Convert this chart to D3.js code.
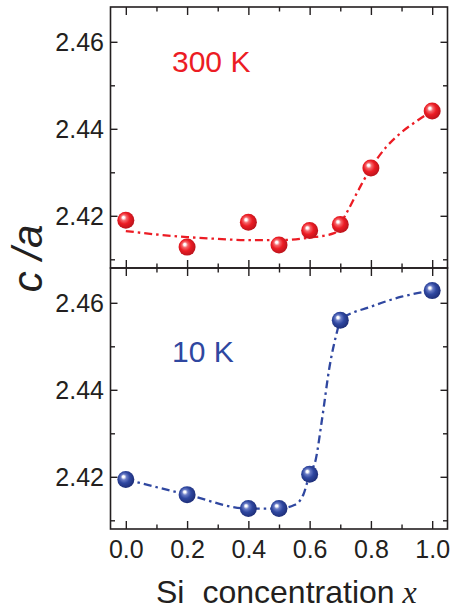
<!DOCTYPE html>
<html>
<head>
<meta charset="utf-8">
<script src="https://cdn.jsdelivr.net/npm/d3@7"></script>
<style>
  html, body { margin: 0; padding: 0; background: #fff; }
  svg text { font-family: "Liberation Sans", Arial, sans-serif; }
</style>
</head>
<body>
<div id="chart"></div>
<script>
// Data
const xMeas300 = [0, 0.2, 0.4, 0.5, 0.6, 0.7, 0.8, 1.0];
const caMeas300 = [2.4190, 2.4128, 2.4185, 2.4133, 2.4166, 2.4180, 2.4310, 2.4441];

const xFit300 = [0, 0.1, 0.2, 0.3, 0.4, 0.5, 0.6, 0.68, 0.72, 0.76, 0.8, 0.85, 0.9, 0.95, 1.0];
const caFit300 = [2.4165, 2.4157, 2.4151, 2.4147, 2.4144, 2.4144, 2.4150, 2.4160, 2.4206, 2.4260, 2.4310, 2.4358, 2.4392, 2.4418, 2.4441];

const xMeas10 = [0, 0.2, 0.4, 0.5, 0.6, 0.7, 1.0];
const caMeas10 = [2.4194, 2.4159, 2.4127, 2.4127, 2.4206, 2.4560, 2.4628];

const xFit10 = [0, 0.2, 0.4, 0.5, 0.55, 0.58, 0.6, 0.62, 0.64, 0.665, 0.69, 0.7, 0.8, 0.9, 1.0];
const caFit10 = [2.4194, 2.4159, 2.4127, 2.4127, 2.4135, 2.4160, 2.4206, 2.4240, 2.4330, 2.4453, 2.4535, 2.4560, 2.4591, 2.4614, 2.4628];

const xMajor = [0, 0.2, 0.4, 0.6, 0.8, 1.0];
const xMinor = [0.1, 0.3, 0.5, 0.7, 0.9];
const yMajor = [2.42, 2.44, 2.46];
const yMinor = [2.41, 2.43, 2.45];

const width = 452, height = 612;
const left = 110.5, right = 447.5;
const panels = [
    { top: 7, bottom: 268, label: '300 K', color: '#ec1c24', dark: '#b3121a', light: '#f5676b',
      xs: xMeas300, ys: caMeas300, fx: xFit300, fy: caFit300, labelY: 72, xLabels: false },
    { top: 268, bottom: 529, label: '10 K', color: '#2f47a0', dark: '#1b2a72', light: '#6a7cc6',
      xs: xMeas10, ys: caMeas10, fx: xFit10, fy: caFit10, labelY: 361.5, xLabels: true }
];

const ink = '#231f20';

const svg = d3.select('#chart')
    .append('svg')
    .attr('width', width)
    .attr('height', height);

const defs = svg.append('defs');

const x = d3.scaleLinear().domain([-0.05, 1.05]).range([left, right]);

panels.forEach((p, i) => {
    const y = d3.scaleLinear().domain([2.408, 2.468]).range([p.bottom, p.top]);

    // sphere gradient
    const grad = defs.append('radialGradient')
        .attr('id', 'ball' + i)
        .attr('cx', '45%').attr('cy', '45%').attr('r', '60%')
        .attr('fx', '35%').attr('fy', '33%');
    grad.append('stop').attr('offset', '0%').attr('stop-color', '#ffffff');
    grad.append('stop').attr('offset', '10%').attr('stop-color', '#ffffff').attr('stop-opacity', 0.95);
    grad.append('stop').attr('offset', '28%').attr('stop-color', p.light);
    grad.append('stop').attr('offset', '55%').attr('stop-color', p.color);
    grad.append('stop').attr('offset', '100%').attr('stop-color', p.dark);

    const g = svg.append('g');

    // ticks: major and minor on all four sides, pointing inward
    const addAxis = (axisFn, vals, size, pos, isX) => {
        const scale = isX ? x : y;
        const ax = axisFn(scale).tickValues(vals).tickSize(-size).tickFormat('');
        const ag = g.append('g')
            .attr('transform', isX ? `translate(0,${pos})` : `translate(${pos},0)`)
            .call(ax);
        ag.select('.domain').remove();
        ag.selectAll('text').remove();
        ag.selectAll('line').attr('stroke', ink).attr('stroke-width', 1.4);
        return ag;
    };

    addAxis(d3.axisTop, xMajor, 8, p.top, true);
    addAxis(d3.axisTop, xMinor, 4.5, p.top, true);
    addAxis(d3.axisBottom, xMinor, 4.5, p.bottom, true);
    const xb = d3.axisBottom(x).tickValues(xMajor).tickSize(-8).tickPadding(11)
        .tickFormat(p.xLabels ? d3.format('.1f') : '');
    const xbg = g.append('g').attr('transform', `translate(0,${p.bottom})`).call(xb);
    xbg.select('.domain').remove();
    xbg.selectAll('line').attr('stroke', ink).attr('stroke-width', 1.4);
    xbg.selectAll('text').attr('fill', ink).style('font-size', '25px');

    const yl = d3.axisLeft(y).tickValues(yMajor).tickSize(-7).tickPadding(6.5)
        .tickFormat(d3.format('.2f'));
    const ylg = g.append('g').attr('transform', `translate(${left},0)`).call(yl);
    ylg.select('.domain').remove();
    ylg.selectAll('line').attr('stroke', ink).attr('stroke-width', 1.4);
    ylg.selectAll('text').attr('fill', ink).attr('dy', '0.36em').style('font-size', '25px');

    addAxis(d3.axisLeft, yMinor, 4.5, left, false);
    addAxis(d3.axisRight, yMajor, 7, right, false);
    addAxis(d3.axisRight, yMinor, 4.5, right, false);

    // frame
    g.append('rect')
        .attr('x', left).attr('y', p.top)
        .attr('width', right - left).attr('height', p.bottom - p.top)
        .attr('fill', 'none')
        .attr('stroke', ink)
        .attr('stroke-width', 1.6);

    // guide line
    const fit = p.fx.map((d, k) => [d, p.fy[k]]);
    g.append('path')
        .datum(fit)
        .attr('d', d3.line().x(d => x(d[0])).y(d => y(d[1])).curve(d3.curveMonotoneX))
        .attr('fill', 'none')
        .attr('stroke', p.color)
        .attr('stroke-width', 2.3)
        .attr('stroke-dasharray', '8,4,2.5,4');

    // spheres
    g.selectAll('circle.pt')
        .data(p.xs.map((d, k) => [d, p.ys[k]]))
        .enter()
        .append('circle')
        .attr('class', 'pt')
        .attr('cx', d => x(d[0]))
        .attr('cy', d => y(d[1]))
        .attr('r', 8.5)
        .attr('fill', `url(#ball${i})`);

    // temperature label
    g.append('text')
        .attr('x', 172)
        .attr('y', p.labelY)
        .attr('fill', p.color)
        .style('font-size', '30px')
        .text(p.label);
});

// axis titles
svg.append('text')
    .attr('transform', 'translate(42,258.5) rotate(-90)')
    .attr('text-anchor', 'middle')
    .attr('fill', ink)
    .style('font-size', '42px')
    .style('font-style', 'italic')
    .text('c /a');

const xt = svg.append('text')
    .attr('x', 156)
    .attr('y', 603)
    .attr('fill', ink)
    .style('font-size', '32px');
xt.append('tspan').text('Si');
xt.append('tspan').attr('dx', 18).text('concentration');
xt.append('tspan')
    .attr('dx', 8)
    .style('font-family', '"Liberation Serif", "Times New Roman", serif')
    .style('font-style', 'italic')
    .text('x');
</script>
</body>
</html>
